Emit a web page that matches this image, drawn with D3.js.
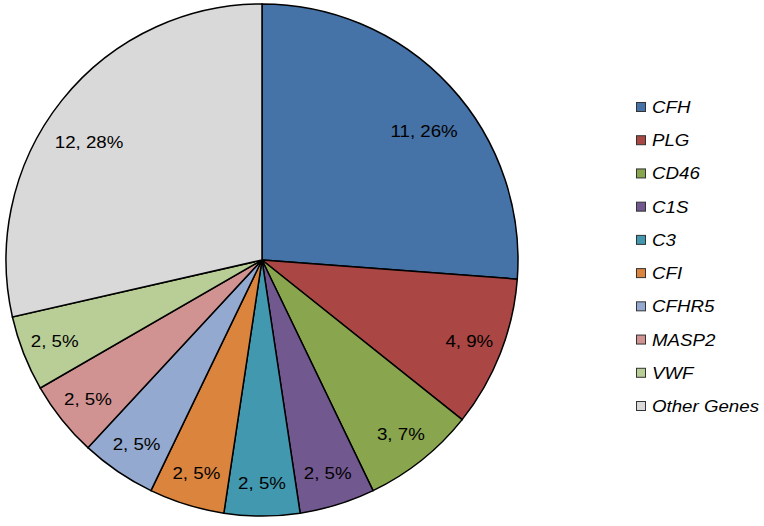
<!DOCTYPE html>
<html lang="en">
<head>
<meta charset="UTF-8">
<script src="https://d3js.org/d3.v7.min.js"></script>
<style>
  body { margin: 0; background: #fff; }
  svg { display: block; font-family: "Liberation Sans", Arial, sans-serif; }
  .slice { stroke: #000; stroke-width: 1.5px; }
  .label { font-size: 17px; fill: #000; }
  .legend text { font-size: 17px; font-style: italic; fill: #000; }
  .legend rect { stroke: #333; stroke-width: 1px; }
</style>
</head>
<body>
<script>
// gene counts and their printed percentages
var genes = ["CFH", "PLG", "CD46", "C1S", "C3", "CFI", "CFHR5", "MASP2", "VWF", "Other Genes"];
var counts = [11, 4, 3, 2, 2, 2, 2, 2, 2, 12];
var percents = ["26%", "9%", "7%", "5%", "5%", "5%", "5%", "5%", "5%", "28%"];
var colors = ["#4572a7", "#aa4643", "#89a54e", "#71588f", "#4198af",
              "#db843d", "#93a9cf", "#d19392", "#b9cd96", "#d9d9d9"];

var width = 764, height = 526;
var cx = 262, cy = 260, radius = 256;
var stretch = 1.1; // text in the original is a bit wider than liberation sans

var svg = d3.select("body").append("svg")
  .attr("width", width)
  .attr("height", height);

var data = genes.map(function(g, i) {
  return { name: g, value: counts[i], pct: percents[i], color: colors[i] };
});

var pie = d3.pie()
  .sort(null)
  .value(function(d) { return d.value; });

var arc = d3.arc().innerRadius(0).outerRadius(radius);

// small slices: label near the rim; big slices: pulled in and toward the sides
var labelArcSmall = d3.arc().innerRadius(radius * 0.87).outerRadius(radius * 0.87);
var labelArcBig = d3.arc().innerRadius(radius * 0.815).outerRadius(radius * 0.815);

function labelPos(d) {
  if (d.data.value >= 10) {
    var c = labelArcBig.centroid(d);
    return [c[0] * 1.06, c[1] * 0.91];
  }
  return labelArcSmall.centroid(d);
}

var g = svg.append("g")
  .attr("transform", "translate(" + cx + "," + cy + ")");

var arcs = pie(data);

g.selectAll("path")
  .data(arcs)
  .enter().append("path")
  .attr("class", "slice")
  .attr("d", arc)
  .attr("fill", function(d) { return d.data.color; });

g.selectAll("text")
  .data(arcs)
  .enter().append("text")
  .attr("class", "label")
  .attr("transform", function(d) {
    return "translate(" + labelPos(d) + ") scale(" + stretch + ",1)";
  })
  .attr("text-anchor", "middle")
  .attr("dy", "0.35em")
  .text(function(d) { return d.data.value + ", " + d.data.pct; });

// legend
var legendY = d3.scalePoint()
  .domain(genes)
  .range([107, 406]);

var legend = svg.append("g").attr("class", "legend");

var item = legend.selectAll("g")
  .data(data)
  .enter().append("g")
  .attr("transform", function(d) { return "translate(636," + legendY(d.name) + ")"; });

item.append("rect")
  .attr("x", 0.5)
  .attr("y", -4.5)
  .attr("width", 9)
  .attr("height", 9)
  .attr("fill", function(d) { return d.color; });

item.append("text")
  .attr("transform", "translate(16,0) scale(" + stretch + ",1)")
  .attr("dy", "0.35em")
  .text(function(d) { return d.name; });
</script>
</body>
</html>
